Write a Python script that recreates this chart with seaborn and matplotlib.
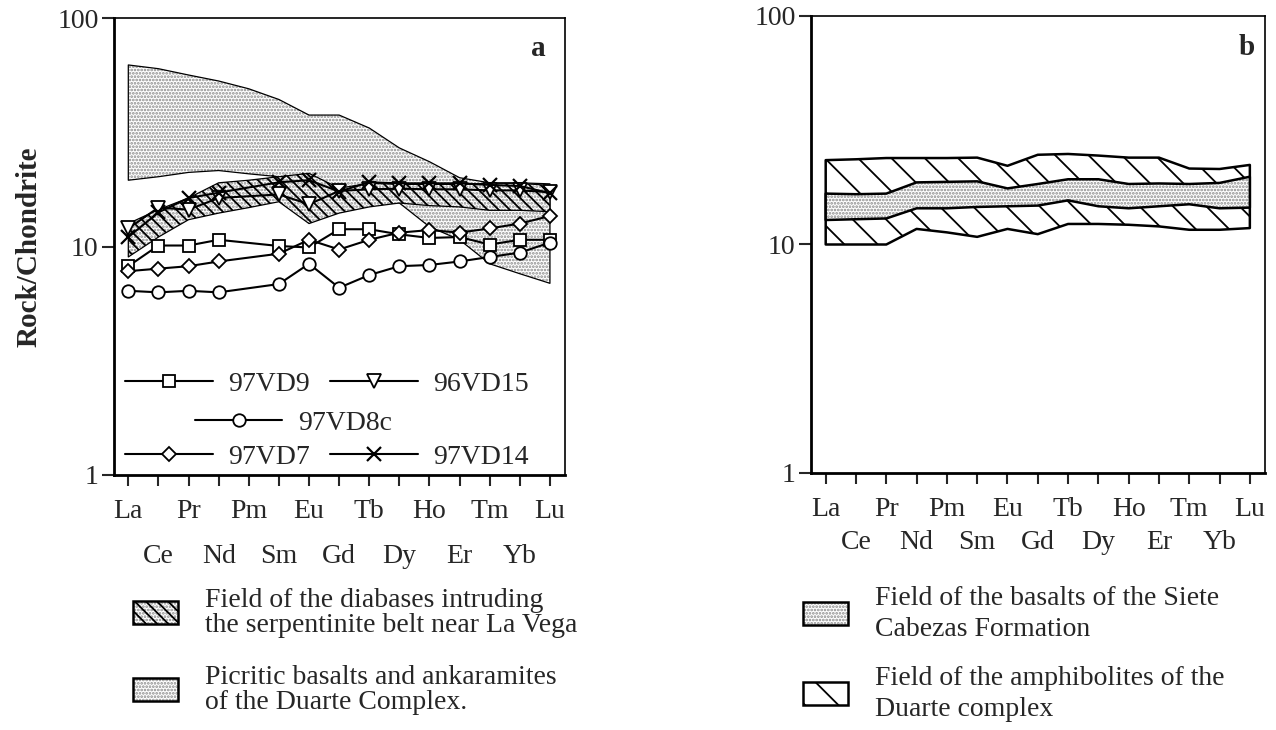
import numpy as np
import pandas as pd
import matplotlib
matplotlib.use("Agg")
import matplotlib.pyplot as plt
import matplotlib.patches as mpatches
from matplotlib.lines import Line2D
from matplotlib.legend_handler import HandlerTuple
from matplotlib.ticker import NullLocator
import seaborn as sns

# ---------------- data ----------------
elements = ["La", "Ce", "Pr", "Nd", "Pm", "Sm", "Eu", "Gd", "Tb", "Dy", "Ho", "Er", "Tm", "Yb", "Lu"]

s_97VD9 = [8.2, 10.1, 10.1, 10.7, np.nan, 10.05, 9.9, 11.9, 11.9, 11.3, 10.9, 11.0, 10.2, 10.7, 10.7]
s_96VD15 = [12.0, 14.8, 14.5, 16.3, np.nan, 16.9, 15.3, 17.5, 17.8, 17.9, 17.8, 17.8, 17.6, 17.6, 17.3]
s_97VD8c = [6.4, 6.3, 6.4, 6.3, np.nan, 6.85, 8.4, 6.6, 7.5, 8.2, 8.3, 8.6, 9.0, 9.4, 10.4]
s_97VD7 = [7.8, 8.0, 8.2, 8.6, np.nan, 9.3, 10.7, 9.7, 10.7, 11.5, 11.8, 11.5, 12.0, 12.6, 13.6]
s_97VD14 = [11.0, 14.1, 16.3, 17.2, np.nan, 19.1, 19.5, 17.4, 19.1, 18.9, 18.9, 18.9, 18.6, 18.4, 17.1]

# panel a fields
picritic_upper = [62.3, 60.0, 56.3, 53.0, 49.0, 44.0, 37.6, 37.6, 33.0, 27.0, 23.5, 20.0, 19.0, 19.0, 18.8]
picritic_lower = [19.5, 20.2, 21.1, 21.5, 20.8, 20.2, 19.0, 17.5, 16.0, 15.5, 12.2, 10.7, 8.4, 7.6, 6.9]
diabase_upper = [12.6, 14.5, 16.3, 19.0, 19.5, 20.2, 20.9, 18.0, 18.9, 18.7, 18.7, 18.7, 18.9, 18.9, 18.5]
diabase_lower = [9.0, 11.0, 13.1, 14.0, 14.8, 15.7, 12.6, 14.0, 14.9, 15.5, 15.1, 14.9, 14.4, 14.4, 14.2]

# panel b fields
amph_upper = [23.4, 23.6, 23.9, 23.9, 23.9, 24.0, 22.1, 24.7, 24.9, 24.5, 24.0, 24.0, 21.5, 21.4, 22.3]
amph_lower = [10.0, 10.0, 10.0, 11.7, 11.3, 10.8, 11.7, 11.1, 12.3, 12.3, 12.2, 12.0, 11.6, 11.6, 11.8]
siete_upper = [16.7, 16.6, 16.7, 18.7, 18.8, 18.9, 17.6, 18.4, 19.3, 19.3, 18.4, 18.5, 18.4, 18.6, 19.8]
siete_lower = [12.8, 12.9, 13.0, 14.4, 14.4, 14.6, 14.7, 14.8, 15.6, 14.7, 14.4, 14.7, 15.0, 14.4, 14.5]

samples = ["97VD9", "96VD15", "97VD8c", "97VD7", "97VD14"]
sample_values = [s_97VD9, s_96VD15, s_97VD8c, s_97VD7, s_97VD14]
sample_markers = {"97VD9": "s", "96VD15": "v", "97VD8c": "o", "97VD7": "D", "97VD14": "x"}
sample_msize = {"97VD9": 9, "96VD15": 10, "97VD8c": 9, "97VD7": 7, "97VD14": 10}

legend_a = ["Field of the diabases intruding\nthe serpentinite belt near La Vega",
            "Picritic basalts and ankaramites\nof the Duarte Complex."]
legend_b = ["Field of the basalts of the Siete\nCabezas Formation",
            "Field of the amphibolites of the\nDuarte complex"]

# ---------------- style ----------------
sns.set_style("ticks")
plt.rcParams["font.family"] = ["Liberation Serif", "DejaVu Serif"]
plt.rcParams["hatch.linewidth"] = 1.3
FS = 20

W, H = 1276, 730
fig = plt.figure(figsize=(W / 100, H / 100), dpi=100)
axA = fig.add_axes([114 / W, (H - 475) / H, 451 / W, 457 / H])
axB = fig.add_axes([811 / W, (H - 473) / H, 454 / W, 457 / H])

x = np.arange(len(elements))

STIPPLE = "....."
STIP_COLOR = "#8a8a8a"


def band(ax, lower, upper, hatch, hcolor, lw, z, face="white"):
    ax.fill_between(x, lower, upper, facecolor=face, edgecolor=hcolor,
                    hatch=hatch, linewidth=0, zorder=z)
    ax.fill_between(x, lower, upper, facecolor="none", edgecolor="black",
                    linewidth=lw, zorder=z + 0.1)


def style_axes(ax, xlo, minor_pad):
    ax.set_yscale("log")
    ax.set_ylim(1, 100)
    ax.set_xlim(xlo, 14.5)
    ax.set_yticks([1, 10, 100], ["1", "10", "100"])
    ax.yaxis.set_minor_locator(NullLocator())
    ax.set_xticks(x[::2], elements[::2])
    ax.set_xticks(x[1::2], elements[1::2], minor=True)
    ax.tick_params(axis="x", which="major", direction="out", length=8, width=1.5,
                   pad=9, labelsize=FS)
    ax.tick_params(axis="x", which="minor", direction="out", length=8, width=1.5,
                   pad=minor_pad, labelsize=FS)
    ax.tick_params(axis="y", which="major", direction="out", length=9, width=1.5,
                   pad=2, labelsize=FS)
    for side in ["left", "bottom"]:
        ax.spines[side].set_linewidth(2.0)
    for side in ["top", "right"]:
        ax.spines[side].set_linewidth(1.2)
        ax.spines[side].set_visible(True)
    for s in ax.spines.values():
        s.set_color("black")
    ax.set_xlabel("")
    ax.grid(False)


# ---------------- panel a ----------------
band(axA, picritic_lower, picritic_upper, STIPPLE, STIP_COLOR, 0.9, 1)
axA.fill_between(x, diabase_lower, diabase_upper, facecolor="white", edgecolor=STIP_COLOR,
                 hatch=STIPPLE, linewidth=0, zorder=2)
band(axA, diabase_lower, diabase_upper, "\\\\\\", "black", 0.9, 2.2, face="none")

for name, vals in zip(samples, sample_values):
    df = pd.DataFrame({"element": x, "value": vals}).dropna()
    sns.lineplot(data=df, x="element", y="value", ax=axA, estimator=None, sort=False,
                 color="black", linewidth=1.5, marker=sample_markers[name],
                 markersize=sample_msize[name], markerfacecolor="white",
                 markeredgecolor="black", markeredgewidth=1.6 if name == "97VD14" else 1.3,
                 zorder=5, legend=False)

style_axes(axA, -0.475, 42)
axA.set_ylabel("Rock/Chondrite", fontsize=21, fontweight="bold")
axA.yaxis.set_label_coords(-0.158, 0.5)
axA.text(0.94, 0.934, "a", transform=axA.transAxes, fontsize=21, fontweight="bold",
         ha="center", va="center")


def sample_handle(name):
    return Line2D([], [], color="black", lw=1.5, marker=sample_markers[name],
                  markersize=sample_msize[name], markerfacecolor="white",
                  markeredgecolor="black",
                  markeredgewidth=1.6 if name == "97VD14" else 1.3)


leg_kw = dict(loc="center left", frameon=False, borderpad=0, borderaxespad=0,
              handlelength=3.15, handletextpad=0.55, columnspacing=0.75,
              fontsize=FS, numpoints=1)
l1 = axA.legend([sample_handle("97VD9"), sample_handle("96VD15")], ["97VD9", "96VD15"],
                ncol=2, bbox_to_anchor=(0.0244, 0.199), **leg_kw)
axA.add_artist(l1)
l2 = axA.legend([sample_handle("97VD8c")], ["97VD8c"], ncol=1,
                bbox_to_anchor=(0.1796, 0.1138), **leg_kw)
axA.add_artist(l2)
l3 = axA.legend([sample_handle("97VD7"), sample_handle("97VD14")], ["97VD7", "97VD14"],
                ncol=2, bbox_to_anchor=(0.0244, 0.0394), **leg_kw)

# ---------------- panel b ----------------
band(axB, amph_lower, amph_upper, "\\", "black", 1.8, 1)
band(axB, siete_lower, siete_upper, STIPPLE, STIP_COLOR, 1.8, 2)
style_axes(axB, -0.485, 33)
axB.set_ylabel("")
axB.text(0.96, 0.93, "b", transform=axB.transAxes, fontsize=21, fontweight="bold",
         ha="center", va="center")

# ---------------- bottom legends ----------------
def patch_handle(hatch, hcolor, stipple=False):
    parts = [mpatches.Patch(facecolor="white", edgecolor=hcolor, hatch=hatch, linewidth=0)]
    if stipple:
        parts.insert(0, mpatches.Patch(facecolor="white", edgecolor=STIP_COLOR,
                                       hatch=STIPPLE, linewidth=0))
        parts[1] = mpatches.Patch(facecolor="none", edgecolor=hcolor, hatch=hatch, linewidth=0)
    parts.append(mpatches.Patch(facecolor="none", edgecolor="black", linewidth=1.8))
    return tuple(parts)


bl_kw = dict(loc="center left", frameon=False, borderpad=0, borderaxespad=0,
             handlelength=1.62, handleheight=0.9, handletextpad=0.97, fontsize=FS,
             handler_map={tuple: HandlerTuple(ndivide=1, pad=0)})

entries = [
    (patch_handle("\\\\\\", "black", stipple=True), legend_a[0], 133, 613, 0.95),
    (patch_handle(STIPPLE, STIP_COLOR), legend_a[1], 133, 690, 0.95),
    (patch_handle(STIPPLE, STIP_COLOR), legend_b[0], 803, 614, 1.35),
    (patch_handle("\\", "black"), legend_b[1], 803, 694, 1.35),
]
for handle, label, px, py, ls in entries:
    lg = fig.legend([handle], [label], bbox_to_anchor=(px / W, 1 - py / H), **bl_kw)
    for t in lg.get_texts():
        t.set_linespacing(ls)

fig.savefig("out.png", dpi=100)
